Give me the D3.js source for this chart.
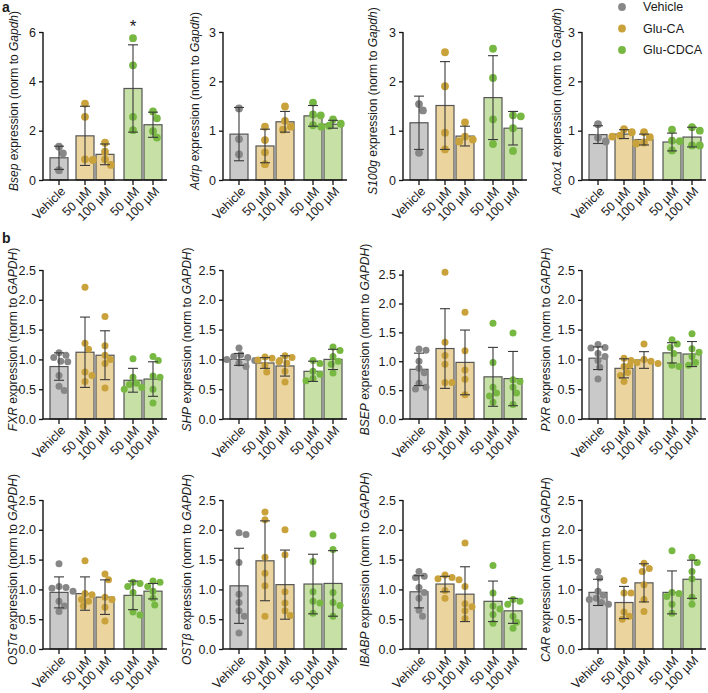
<!DOCTYPE html>
<html><head><meta charset="utf-8">
<script src="https://cdn.jsdelivr.net/npm/d3@7"></script>
<style>
body{margin:0;background:#fff}
svg{display:block}
text{font-family:"Liberation Sans",Arial,Helvetica,sans-serif;fill:#1a1a1a}
</style>
</head><body>
<svg id="chart" width="708" height="693"></svg>
<script>
// ---------- DATA ----------
const xLabels = ["Vehicle", "50 µM", "100 µM", "50 µM", "100 µM"];
const treatment = ["Vehicle", "Glu-CA", "Glu-CA", "Glu-CDCA", "Glu-CDCA"];
const legendLabels = ["Vehicle", "Glu-CA", "Glu-CDCA"];
const genes = ["Bsep", "Adrp", "S100g", "Acox1", "FXR", "SHP", "BSEP", "PXR", "OSTα", "OSTβ", "IBABP", "CAR"];
const refGenes = ["Gapdh", "Gapdh", "Gapdh", "Gapdh", "GAPDH", "GAPDH", "GAPDH", "GAPDH", "GAPDH", "GAPDH", "GAPDH", "GAPDH"];
const yMaxes = [6, 3, 3, 3, 2.5, 2.5, 2.58, 2.5, 2.5, 2.5, 2.5, 2.5];
const yTicksA = [0, 2, 4, 6];
const yTicksA2 = [0, 1, 2, 3];
const yTicksB = [0, 0.5, 1.0, 1.5, 2.0, 2.5];

const bsepMean = [0.90, 1.79, 1.04, 3.71, 2.24];
const bsepSD = [0.47, 1.20, 0.42, 1.77, 0.51];
const bsepPts = [[1.35, 1.08, 0.40], [3.10, 2.56, 0.81, 0.84], [1.51, 1.15, 0.84, 0.61], [5.75, 4.65, 2.56, 2.02], [2.78, 2.50, 1.98, 1.72]];

const adrpMean = [0.93, 0.69, 1.18, 1.30, 1.13];
const adrpSD = [0.54, 0.34, 0.21, 0.21, 0.08];
const adrpPts = [[1.45, 0.83, 0.52], [1.08, 0.81, 0.56, 0.32], [1.49, 1.20, 1.08, 1.02], [1.57, 1.33, 1.31, 1.11], [1.23, 1.14, 1.10, 1.08]];

const s100gMean = [1.16, 1.51, 0.89, 1.67, 1.05];
const s100gSD = [0.54, 0.89, 0.20, 0.85, 0.34];
const s100gPts = [[1.54, 1.41, 0.55], [2.59, 1.90, 0.96, 0.62], [1.17, 0.88, 0.82, 0.78], [2.66, 2.07, 1.23, 0.73], [1.31, 1.29, 1.05, 0.59]];

const acox1Mean = [0.92, 0.93, 0.82, 0.77, 0.87];
const acox1SD = [0.18, 0.09, 0.11, 0.18, 0.20];
const acox1Pts = [[1.13, 0.86, 0.78], [1.03, 0.97, 0.90, 0.88], [0.97, 0.87, 0.76, 0.74], [1.02, 0.80, 0.79, 0.60], [1.07, 1.00, 0.70, 0.70]];

const fxrMean = [0.88, 1.12, 1.07, 0.65, 0.67];
const fxrSD = [0.23, 0.59, 0.41, 0.20, 0.29];
const fxrPts = [[1.11, 1.07, 1.03, 0.97, 0.96, 0.73, 0.55, 0.48], [2.21, 1.27, 1.17, 0.79, 0.73, 0.63], [1.72, 1.23, 1.07, 1.00, 0.93, 0.52], [1.01, 0.70, 0.60, 0.58, 0.53, 0.50], [1.05, 0.98, 0.72, 0.70, 0.50, 0.27]];

const shpMean = [1.00, 0.94, 0.89, 0.80, 1.00];
const shpSD = [0.10, 0.09, 0.17, 0.17, 0.17];
const shpPts = [[1.19, 1.08, 1.05, 1.03, 1.00, 0.98, 0.94, 0.88], [1.04, 1.02, 0.99, 0.96, 0.90, 0.79], [1.06, 1.03, 0.98, 0.94, 0.80, 0.62], [0.98, 0.93, 0.80, 0.75, 0.68, 0.64], [1.21, 1.15, 1.05, 0.97, 0.92, 0.77]];

const bsepHMean = [0.86, 1.22, 0.98, 0.73, 0.70];
const bsepHSD = [0.28, 0.69, 0.56, 0.51, 0.47];
const bsepHPts = [[1.21, 1.19, 1.00, 0.88, 0.80, 0.62, 0.55, 0.52], [2.54, 1.33, 1.10, 0.95, 0.63, 0.63], [1.85, 1.18, 0.85, 0.69, 0.42], [1.66, 0.98, 0.55, 0.45, 0.40, 0.29], [1.49, 0.68, 0.65, 0.55, 0.45, 0.25]];

const pxrMean = [1.02, 0.85, 0.99, 1.11, 1.09];
const pxrSD = [0.19, 0.16, 0.14, 0.17, 0.21];
const pxrPts = [[1.25, 1.20, 1.19, 1.10, 1.05, 0.98, 0.87, 0.67], [1.02, 0.98, 0.88, 0.78, 0.73, 0.63], [1.26, 1.00, 0.97, 0.95, 0.93, 0.90], [1.33, 1.26, 1.20, 1.10, 0.90, 0.88], [1.43, 1.18, 1.12, 1.05, 0.95, 0.90]];

const ostaMean = [0.95, 0.93, 0.87, 0.90, 0.97];
const ostaSD = [0.26, 0.28, 0.29, 0.24, 0.13];
const ostaPts = [[1.43, 1.05, 1.03, 1.02, 0.97, 0.80, 0.72, 0.63], [1.48, 0.93, 0.91, 0.83, 0.80, 0.72], [1.26, 1.16, 0.87, 0.83, 0.70, 0.47], [1.12, 1.10, 1.05, 0.95, 0.62, 0.57], [1.14, 1.12, 1.05, 0.97, 0.85, 0.74]];

const ostbMean = [1.06, 1.48, 1.08, 1.09, 1.10];
const ostbSD = [0.63, 0.67, 0.58, 0.50, 0.55];
const ostbPts = [[1.95, 1.92, 1.45, 0.92, 0.78, 0.64, 0.55, 0.27], [2.30, 2.17, 1.54, 1.27, 1.06, 0.55], [2.00, 1.58, 0.96, 0.77, 0.64, 0.56], [1.93, 1.47, 0.96, 0.80, 0.77, 0.60], [1.90, 1.67, 0.95, 0.78, 0.73, 0.55]];

const ibabpMean = [0.96, 1.09, 0.92, 0.80, 0.64];
const ibabpSD = [0.27, 0.13, 0.46, 0.34, 0.21];
const ibabpPts = [[1.30, 1.22, 1.20, 1.03, 0.95, 0.85, 0.65, 0.55], [1.24, 1.20, 1.18, 1.16, 0.98, 0.85], [1.78, 1.05, 0.76, 0.71, 0.64, 0.51], [1.40, 0.94, 0.72, 0.67, 0.58, 0.43], [0.83, 0.80, 0.75, 0.55, 0.45, 0.35]];

const carMean = [0.95, 0.78, 1.11, 0.95, 1.17];
const carSD = [0.22, 0.27, 0.32, 0.36, 0.32];
const carPts = [[1.30, 1.19, 0.97, 0.90, 0.85, 0.83, 0.78, 0.75], [1.15, 0.94, 0.94, 0.62, 0.55, 0.50], [1.44, 1.35, 1.30, 1.08, 0.83, 0.63], [1.65, 0.95, 0.93, 0.88, 0.75, 0.60], [1.54, 1.45, 1.30, 1.18, 0.87, 0.75]];

const significance = [{panel: 0, bar: 3, label: "*"}];

// ---------- LAYOUT / STYLE ----------
const allMeans = [bsepMean, adrpMean, s100gMean, acox1Mean, fxrMean, shpMean, bsepHMean, pxrMean, ostaMean, ostbMean, ibabpMean, carMean];
const allSD = [bsepSD, adrpSD, s100gSD, acox1SD, fxrSD, shpSD, bsepHSD, pxrSD, ostaSD, ostbSD, ibabpSD, carSD];
const allPts = [bsepPts, adrpPts, s100gPts, acox1Pts, fxrPts, shpPts, bsepHPts, pxrPts, ostaPts, ostbPts, ibabpPts, carPts];

const colX = [43, 223, 403, 582];
const rows = [{top: 32, base: 180}, {top: 270, base: 419}, {top: 500, base: 649}];
const titleX = [[14, 195, 373, 557], [13, 187, 365, 546], [13, 187, 365, 546]];
const slotPos = [0, 1.3, 2.3, 3.7, 4.7];
const barW = 18;
const fills = {"Vehicle": "#c9c9c9", "Glu-CA": "#ecd49f", "Glu-CDCA": "#c6e0a6"};
const dots = {"Vehicle": "#878787", "Glu-CA": "#c9a23b", "Glu-CDCA": "#77b843"};

const svg = d3.select("#chart");

function swarm(vals, y, r) {
  const placed = [];
  const offs = new Array(vals.length);
  const order = vals.map((v, i) => i).sort((a, b) => vals[b] - vals[a]);
  const cands = [0];
  for (let k = 1; k <= 16; k++) { cands.push(k * r * 0.5, -k * r * 0.5); }
  for (const i of order) {
    const py = y(vals[i]);
    let best = 0;
    for (const c of cands) {
      if (placed.every(p => (p.x - c) ** 2 + (p.y - py) ** 2 >= (2 * r * 0.95) ** 2)) { best = c; break; }
    }
    placed.push({x: best, y: py});
    offs[i] = best;
  }
  return offs;
}

genes.forEach((gene, gi) => {
  const row = Math.floor(gi / 4), col = gi % 4;
  const R = rows[row];
  const ax = colX[col];
  const means = allMeans[gi], sds = allSD[gi], pts = allPts[gi];
  const r = row === 0 ? 3.9 : 3.5;
  const y = d3.scaleLinear().domain([0, yMaxes[gi]]).range([R.base, R.top]);
  const x = d3.scaleLinear().domain([0, 1]).range([ax + 16, ax + 36]);
  const g = svg.append("g");

  // bars
  g.selectAll("rect.bar").data(means).join("rect")
    .attr("x", (d, i) => x(slotPos[i]) - barW / 2)
    .attr("width", barW)
    .attr("y", d => y(d))
    .attr("height", d => R.base - y(d))
    .attr("fill", (d, i) => fills[treatment[i]])
    .attr("stroke", "#555")
    .attr("stroke-width", 1.2);

  // points
  pts.forEach((arr, i) => {
    const offs = swarm(arr, y, r);
    g.selectAll(null).data(arr).join("circle")
      .attr("cx", (d, j) => x(slotPos[i]) + offs[j])
      .attr("cy", d => y(d))
      .attr("r", r)
      .attr("fill", dots[treatment[i]]);
  });

  // error bars
  means.forEach((m, i) => {
    const cx = x(slotPos[i]);
    const hi = y(m + sds[i]), lo = y(Math.max(0, m - sds[i]));
    g.append("line").attr("x1", cx).attr("x2", cx).attr("y1", hi).attr("y2", lo)
      .attr("stroke", "#3a3a3a").attr("stroke-width", 1.1);
    [hi, lo].forEach(yy => g.append("line").attr("x1", cx - 5).attr("x2", cx + 5)
      .attr("y1", yy).attr("y2", yy).attr("stroke", "#3a3a3a").attr("stroke-width", 1.1));
  });

  // y axis
  const ticks = row === 0 ? (gi === 0 ? yTicksA : yTicksA2) : yTicksB;
  const yAxis = d3.axisLeft(y).tickValues(ticks).tickSize(4).tickPadding(3)
    .tickFormat(row === 0 ? d3.format("d") : d3.format(".1f"));
  const ya = g.append("g").attr("transform", `translate(${ax},0)`).call(yAxis);
  ya.select(".domain").attr("d", `M0,${R.top}V${R.base}`).attr("stroke", "#111").attr("stroke-width", 1.4);
  ya.selectAll(".tick line").attr("stroke", "#111").attr("stroke-width", 1.3);
  ya.selectAll(".tick text").attr("font-size", 12.5).attr("fill", "#1a1a1a")
    .attr("font-family", '"Liberation Sans",Arial,sans-serif');

  // x axis line + ticks
  g.append("line").attr("x1", ax).attr("x2", ax + 124).attr("y1", R.base).attr("y2", R.base)
    .attr("stroke", "#111").attr("stroke-width", 1.4);
  g.selectAll("line.xt").data(xLabels).join("line")
    .attr("x1", (d, i) => x(slotPos[i])).attr("x2", (d, i) => x(slotPos[i]))
    .attr("y1", R.base).attr("y2", R.base + 5).attr("stroke", "#111").attr("stroke-width", 1.3);
  g.selectAll("text.xl").data(xLabels).join("text")
    .attr("transform", (d, i) => `translate(${x(slotPos[i]) + 4},${R.base + 9}) rotate(-45)`)
    .attr("text-anchor", "end").attr("dy", "0.35em").attr("font-size", 12.5).text(d => d);

  // y title
  const tx = titleX[row][col];
  const ty = (R.top + R.base) / 2 - 5;
  const t = g.append("text").attr("transform", `translate(${tx + 4.3},${ty}) rotate(-90)`)
    .attr("text-anchor", "middle").attr("font-size", 12);
  t.append("tspan").attr("font-style", "italic").text(gene);
  t.append("tspan").text(" expression (norm to ");
  t.append("tspan").attr("font-style", "italic").text(refGenes[gi]);
  t.append("tspan").text(")");

  significance.filter(s => s.panel === gi).forEach(s => {
    g.append("text").attr("x", x(slotPos[s.bar])).attr("y", 32).attr("text-anchor", "middle")
      .attr("font-size", 17).text(s.label);
  });
});

// panel letters
svg.append("text").attr("x", 2).attr("y", 12).attr("font-size", 14).attr("font-weight", "bold").text("a");
svg.append("text").attr("x", 2).attr("y", 243).attr("font-size", 14).attr("font-weight", "bold").text("b");

// legend
const leg = svg.append("g");
legendLabels.forEach((l, i) => {
  const yy = 7 + i * 21.5;
  leg.append("circle").attr("cx", 622).attr("cy", yy).attr("r", 3.9).attr("fill", dots[l]);
  leg.append("text").attr("x", 643).attr("y", yy).attr("dy", "0.35em").attr("font-size", 12.5).text(l);
});
</script>
</body></html>
